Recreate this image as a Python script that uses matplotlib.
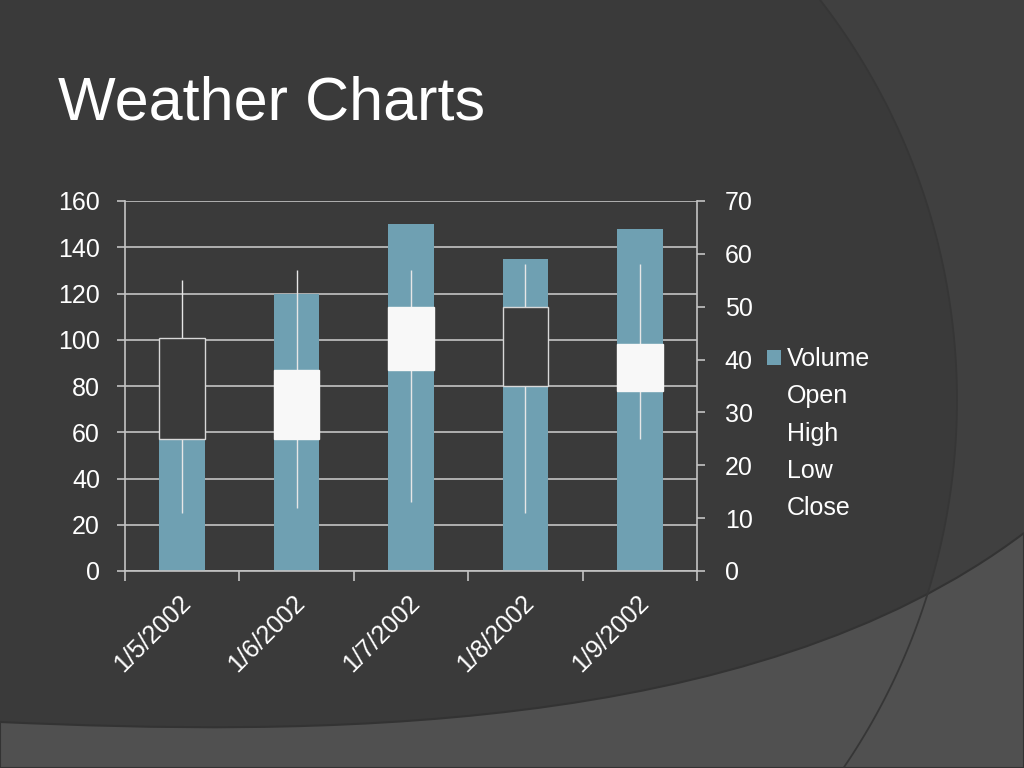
"""Weather Charts slide: volume bars with open-high-low-close candles."""

import numpy as np
import matplotlib.pyplot as plt
from matplotlib.patches import Polygon, Rectangle, Patch
from matplotlib.path import Path
from matplotlib.patches import PathPatch
from matplotlib.lines import Line2D
import matplotlib.transforms as mtransforms

dates = ['1/5/2002', '1/6/2002', '1/7/2002', '1/8/2002', '1/9/2002']
volume = [70, 120, 150, 135, 148]
open_ = [44, 25, 38, 50, 34]
high = [55, 57, 57, 58, 58]
low = [11, 12, 13, 11, 25]
close = [25, 38, 50, 35, 43]

BG = '#3a3a3a'
BAR = '#6fa0b2'
FG = '#ffffff'
GRID = '#c4c4c4'

plt.rcParams['font.family'] = ['Liberation Sans', 'DejaVu Sans']
plt.rcParams['font.size'] = 18

fig = plt.figure(figsize=(10.24, 7.68), dpi=100)
fig.patch.set_facecolor(BG)
W, H = 1024, 768


def px(pts):
    """pixel coords (y down) -> figure fraction"""
    pts = np.asarray(pts, dtype=float)
    return np.column_stack([pts[:, 0] / W, 1 - pts[:, 1] / H])


# top-right lighter region bounded by a large circular arc
ys = np.linspace(0, 768, 120)
xs = 304 + np.sqrt(653.0 ** 2 - (ys - 400) ** 2)
arc = np.column_stack([xs, ys])
tr = np.vstack([arc, [[1024, 768], [1024, 0]]])
fig.patches.append(Polygon(px(tr), closed=True, transform=fig.transFigure,
                           facecolor='#404040', edgecolor='none', zorder=0))

# bottom lighter band bounded by a curve
verts = px([(0, 722), (300, 735), (750, 740), (1024, 533),
            (1024, 768), (0, 768), (0, 722)])
codes = [Path.MOVETO, Path.CURVE4, Path.CURVE4, Path.CURVE4,
         Path.LINETO, Path.LINETO, Path.CLOSEPOLY]
fig.patches.append(PathPatch(Path(verts, codes), transform=fig.transFigure,
                             facecolor='#505050', edgecolor='#333333', lw=1.5,
                             zorder=1))
fig.lines.append(Line2D(px(arc)[:, 0], px(arc)[:, 1], transform=fig.transFigure,
                        color='#363636', lw=1.3, zorder=1.5))

fig.text(58 / W, 1 - 120 / H, 'Weather Charts', color=FG, fontsize=44,
         va='baseline', ha='left')

ax = fig.add_axes([125 / W, 1 - 571 / H, 572 / W, 370 / H])
ax.set_facecolor('none')
x = np.arange(len(dates))
ax.bar(x, volume, width=0.4, color=BAR, zorder=2)
ax.set_xlim(-0.5, len(dates) - 0.5)
ax.set_ylim(0, 160)
ax.set_yticks(range(0, 161, 20))
ax.yaxis.grid(True, color=GRID, lw=1.2, zorder=0)
ax.set_axisbelow(True)

for s in ['top', 'right']:
    ax.spines[s].set_visible(False)
for s in ['left', 'bottom']:
    ax.spines[s].set_color(GRID)
    ax.spines[s].set_linewidth(1.2)

# category boundary tick marks, rotated date labels drawn as text
ax.set_xticks(np.arange(-0.5, len(dates)))
ax.set_xticklabels([])
ax.tick_params(axis='x', length=7, color=GRID, width=1.2)
lbl_tr = ax.get_xaxis_transform() + mtransforms.ScaledTranslation(
    0.05, -0.28, fig.dpi_scale_trans)
for xi, d in zip(x, dates):
    ax.text(xi, 0, d, transform=lbl_tr, rotation=45, rotation_mode='anchor',
            ha='right', va='center', fontsize=18, color=FG)
ax.tick_params(axis='y', length=6, color=GRID, width=1.2, pad=12, labelcolor=FG)

ax2 = ax.twinx()
ax2.set_ylim(0, 70)
ax2.set_yticks(range(0, 71, 10))
for s in ['top', 'left', 'bottom']:
    ax2.spines[s].set_visible(False)
ax2.spines['right'].set_color(GRID)
ax2.spines['right'].set_linewidth(1.2)
ax2.tick_params(axis='y', length=6, color=GRID, width=1.2, pad=14, labelcolor=FG)

bw = 0.4
for i in range(len(dates)):
    ax2.vlines(x[i], low[i], high[i], color='#e6e6e6', lw=1, zorder=3)
    lo, hi = min(open_[i], close[i]), max(open_[i], close[i])
    up = close[i] > open_[i]
    ax2.add_patch(Rectangle((x[i] - bw / 2, lo), bw, hi - lo,
                            facecolor='#f8f8f8' if up else BG,
                            edgecolor='#f8f8f8' if up else '#d8d8d8',
                            lw=1, zorder=4))

handles = [Patch(facecolor=BAR, edgecolor='none')] + \
          [Line2D([], [], color='none') for _ in range(4)]
leg = fig.legend(handles, ['Volume', 'Open', 'High', 'Low', 'Close'],
                 loc='upper left', bbox_to_anchor=(767 / W, 1 - 347 / H),
                 frameon=False, handlelength=0.55, handleheight=0.55,
                 handletextpad=0.25, labelspacing=0.53, labelcolor=FG,
                 borderaxespad=0, borderpad=0)

fig.savefig('out.png', dpi=100, facecolor=fig.get_facecolor())
